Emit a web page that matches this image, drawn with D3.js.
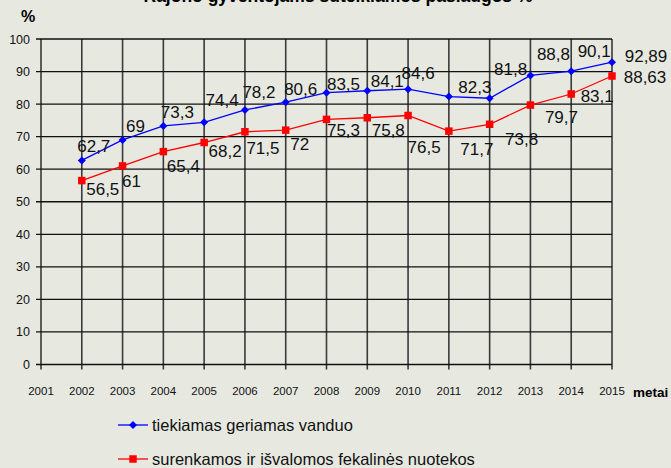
<!DOCTYPE html>
<html>
<head>
<meta charset="utf-8">
<script src="https://cdn.jsdelivr.net/npm/d3@7"></script>
<style>
  body { margin: 0; background: #e7e9e1; }
  svg { display: block; font-family: "Liberation Sans", Arial, sans-serif; }
</style>
</head>
<body>
<svg id="chart"></svg>
<script>
const years = [2002, 2003, 2004, 2005, 2006, 2007, 2008, 2009, 2010, 2011, 2012, 2013, 2014, 2015];
const water = [62.7, 69, 73.3, 74.4, 78.2, 80.6, 83.5, 84.1, 84.6, 82.3, 81.8, 88.8, 90.1, 92.89];
const sewage = [56.5, 61, 65.4, 68.2, 71.5, 72, 75.3, 75.8, 76.5, 71.7, 73.8, 79.7, 83.1, 88.63];
const waterLabels = ["62,7", "69", "73,3", "74,4", "78,2", "80,6", "83,5", "84,1", "84,6", "82,3", "81,8", "88,8", "90,1", "92,89"];
const sewageLabels = ["56,5", "61", "65,4", "68,2", "71,5", "72", "75,3", "75,8", "76,5", "71,7", "73,8", "79,7", "83,1", "88,63"];
const yTicks = [0, 10, 20, 30, 40, 50, 60, 70, 80, 90, 100];
const xTicks = [2001, 2002, 2003, 2004, 2005, 2006, 2007, 2008, 2009, 2010, 2011, 2012, 2013, 2014, 2015];
const seriesNames = ["tiekiamas geriamas vanduo", "surenkamos ir išvalomos fekalinės nuotekos"];

// hand placement of the value labels (center dx, baseline dy), like in the original
const waterShift = [[12,-8],[13,-8],[14,-8],[18,-16],[14,-12],[15,-7],[17,-3],[20,-4],[10,-10],[26,-4],[21,-23],[23,-15],[23,-14],[34,0]];
const sewageShift = [[21,14],[9,21],[20,20],[21,14],[18,22],[14,20],[17,17],[21,18],[16,38],[28,24],[32,21],[31,18],[26,8],[33,7]];

const W = 671, H = 468;
const svg = d3.select("#chart").attr("width", W).attr("height", H);

const x = d3.scaleLinear().domain([2001, 2015]).range([41, 612]);
const y = d3.scaleLinear().domain([0, 100]).range([364.5, 39]);

// title (cut at the top in the original)
svg.append("text")
  .attr("x", 338).attr("y", 2)
  .attr("text-anchor", "middle")
  .style("font-size", "17.5px").style("font-weight", "bold")
  .text("Rajono gyventojams suteikiamos paslaugos %");

svg.append("text")
  .attr("x", 28).attr("y", 22)
  .attr("text-anchor", "middle")
  .style("font-size", "16px").style("font-weight", "bold")
  .text("%");

// grid
svg.append("g").selectAll("line")
  .data(xTicks.slice(1))
  .join("line")
  .attr("x1", d => x(d)).attr("x2", d => x(d))
  .attr("y1", y(100)).attr("y2", y(0) + 5)
  .attr("stroke", "#3a3a3a").attr("stroke-width", 1.6);

svg.append("g").selectAll("line")
  .data(yTicks)
  .join("line")
  .attr("x1", x(2001) - 5).attr("x2", x(2015))
  .attr("y1", d => y(d)).attr("y2", d => y(d))
  .attr("stroke", "#111").attr("stroke-width", 1.3);

svg.append("line")
  .attr("x1", x(2001)).attr("x2", x(2001))
  .attr("y1", y(100)).attr("y2", y(0) + 5)
  .attr("stroke", "#111").attr("stroke-width", 1.3);

// tick labels
svg.append("g").selectAll("text")
  .data(yTicks)
  .join("text")
  .attr("x", 30).attr("y", d => y(d) + 4.5)
  .attr("text-anchor", "end")
  .style("font-size", "12.5px").style("fill", "#111")
  .text(d => d);

svg.append("g").selectAll("text")
  .data(xTicks)
  .join("text")
  .attr("x", d => x(d)).attr("y", 395)
  .attr("text-anchor", "middle")
  .style("font-size", "11.5px").style("fill", "#111")
  .text(d => d);

svg.append("text")
  .attr("x", 633).attr("y", 397)
  .style("font-size", "13.5px").style("font-weight", "bold")
  .text("metai");

// series
const series = [
  { values: water, labels: waterLabels, shift: waterShift, color: "#0000ff", diamond: true },
  { values: sewage, labels: sewageLabels, shift: sewageShift, color: "#ff0000", diamond: false }
];

const line = d3.line()
  .x((d, i) => x(years[i]))
  .y(d => y(d));

series.forEach(s => {
  svg.append("path")
    .datum(s.values)
    .attr("fill", "none")
    .attr("stroke", s.color)
    .attr("stroke-width", 1.3)
    .attr("d", line);

  svg.append("g").selectAll("path")
    .data(s.values)
    .join("path")
    .attr("transform", (d, i) => `translate(${x(years[i])},${y(d)})` + (s.diamond ? " rotate(45)" : ""))
    .attr("d", d3.symbol().type(d3.symbolSquare).size(s.diamond ? 32 : 56))
    .attr("fill", s.color);

  svg.append("g").selectAll("text")
    .data(s.values)
    .join("text")
    .attr("x", (d, i) => x(years[i]) + s.shift[i][0])
    .attr("y", (d, i) => y(d) + s.shift[i][1])
    .attr("text-anchor", "middle")
    .style("font-size", "17px").style("fill", "#111")
    .text((d, i) => s.labels[i]);
});

// legend
const legend = svg.append("g");
series.forEach((s, i) => {
  const ly = 425 + i * 34;
  legend.append("line")
    .attr("x1", 118).attr("x2", 148)
    .attr("y1", ly).attr("y2", ly)
    .attr("stroke", s.color).attr("stroke-width", 1.3);
  legend.append("path")
    .attr("transform", `translate(133,${ly})` + (s.diamond ? " rotate(45)" : ""))
    .attr("d", d3.symbol().type(d3.symbolSquare).size(s.diamond ? 32 : 56))
    .attr("fill", s.color);
  legend.append("text")
    .attr("x", 152).attr("y", ly + 6)
    .style("font-size", "16.5px").style("fill", "#111")
    .text(seriesNames[i]);
});
</script>
</body>
</html>
